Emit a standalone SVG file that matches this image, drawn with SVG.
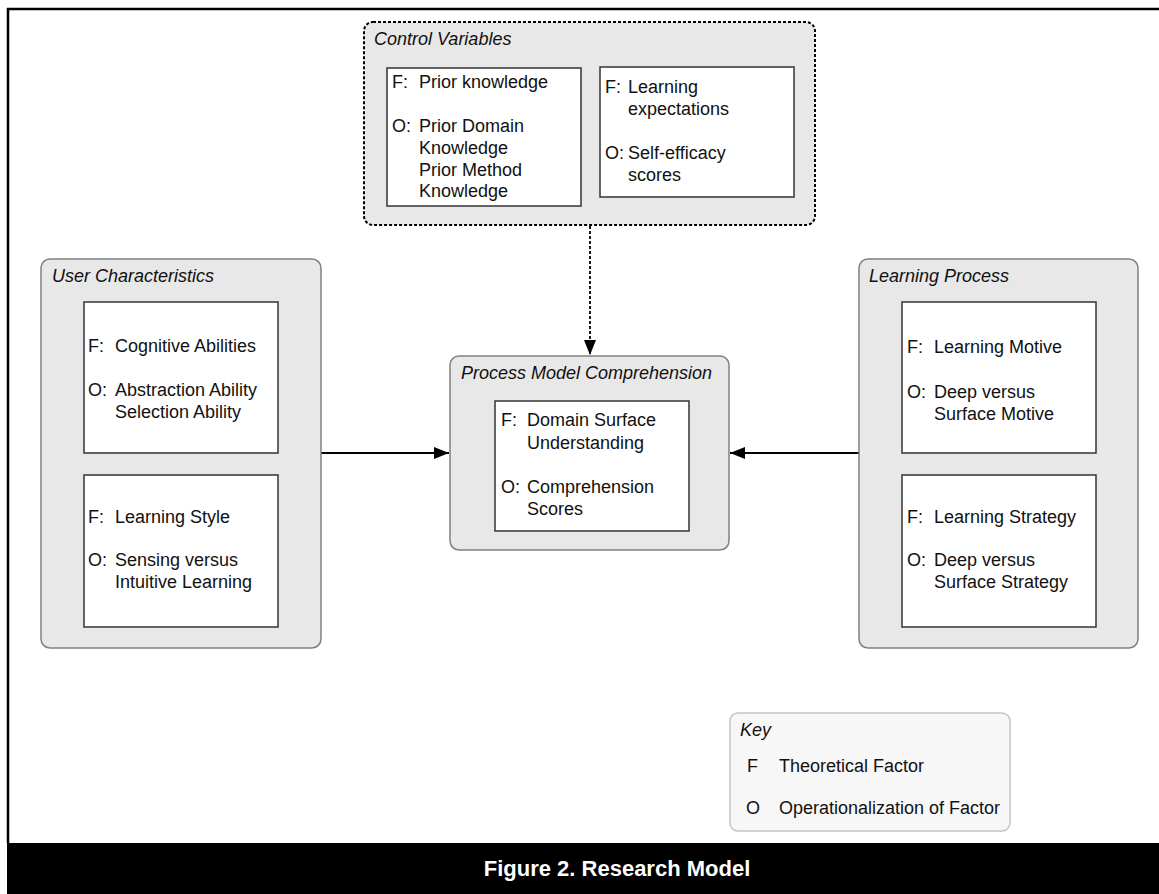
<svg xmlns="http://www.w3.org/2000/svg" width="1159" height="894" viewBox="0 0 1159 894">
<style>
text{font-family:"Liberation Sans",Arial,sans-serif;font-size:18px;fill:#111}
.t{font-style:italic}
.grp{fill:#e8e8e8;stroke:#808080;stroke-width:1.5}
.inner{fill:#fff;stroke:#333;stroke-width:1.5}
.conn{stroke:#000;stroke-width:1.8;fill:none}
</style>
<defs>
<marker id="ah" markerWidth="16" markerHeight="12" refX="15" refY="6" orient="auto" markerUnits="userSpaceOnUse">
<path d="M0,0 L15,6 L0,12 Z" fill="#000"/>
</marker>
</defs>
<rect x="0" y="0" width="1159" height="894" fill="#fff"/>
<g id="frame">
<line x1="7" y1="9" x2="1159" y2="9" stroke="#000" stroke-width="2.5"/>
<line x1="8" y1="8" x2="8" y2="843" stroke="#000" stroke-width="2.5"/>
<rect x="7" y="843" width="1152" height="51" fill="#000"/>
<text x="617" y="876" text-anchor="middle" style="font-weight:bold;font-size:22px;fill:#fff">Figure 2. Research Model</text>
</g>
<g id="connectors">
<line class="conn" x1="590" y1="226" x2="590" y2="355" stroke-dasharray="3,2" stroke-width="2" marker-end="url(#ah)"/>
<line class="conn" x1="321" y1="453" x2="449" y2="453" marker-end="url(#ah)"/>
<line class="conn" x1="859" y1="453" x2="730" y2="453" marker-end="url(#ah)"/>
</g>
<g id="control-variables">
<rect x="364" y="22" width="451" height="203" rx="9" fill="#e8e8e8" stroke="#000" stroke-width="2" stroke-dasharray="3,2"/>
<text class="t" x="374" y="45">Control Variables</text>
<rect class="inner" x="387" y="68" width="194" height="138"/>
<text x="392" y="88">F:</text><text x="419" y="88">Prior knowledge</text>
<text x="392" y="132">O:</text><text x="419" y="132">Prior Domain</text>
<text x="419" y="154">Knowledge</text>
<text x="419" y="176">Prior Method</text>
<text x="419" y="197">Knowledge</text>
<rect class="inner" x="600" y="67" width="194" height="130"/>
<text x="605" y="93">F:</text><text x="628" y="93">Learning</text>
<text x="628" y="115">expectations</text>
<text x="605" y="159">O:</text><text x="628" y="159">Self-efficacy</text>
<text x="628" y="181">scores</text>
</g>
<g id="user-characteristics">
<rect class="grp" x="41" y="259" width="280" height="389" rx="9"/>
<text class="t" x="52" y="282">User Characteristics</text>
<rect class="inner" x="84" y="302" width="194" height="151"/>
<text x="88" y="352">F:</text><text x="115" y="352">Cognitive Abilities</text>
<text x="88" y="396">O:</text><text x="115" y="396">Abstraction Ability</text>
<text x="115" y="418">Selection Ability</text>
<rect class="inner" x="84" y="475" width="194" height="152"/>
<text x="88" y="523">F:</text><text x="115" y="523">Learning Style</text>
<text x="88" y="566">O:</text><text x="115" y="566">Sensing versus</text>
<text x="115" y="588">Intuitive Learning</text>
</g>
<g id="process-model-comprehension">
<rect class="grp" x="450" y="356" width="279" height="194" rx="9"/>
<text class="t" x="461" y="379">Process Model Comprehension</text>
<rect class="inner" x="495" y="401" width="194" height="130"/>
<text x="501" y="426">F:</text><text x="527" y="426">Domain Surface</text>
<text x="527" y="449">Understanding</text>
<text x="501" y="493">O:</text><text x="527" y="493">Comprehension</text>
<text x="527" y="515">Scores</text>
</g>
<g id="learning-process">
<rect class="grp" x="859" y="259" width="279" height="389" rx="9"/>
<text class="t" x="869" y="282">Learning Process</text>
<rect class="inner" x="902" y="302" width="194" height="151"/>
<text x="907" y="353">F:</text><text x="934" y="353">Learning Motive</text>
<text x="907" y="398">O:</text><text x="934" y="398">Deep versus</text>
<text x="934" y="420">Surface Motive</text>
<rect class="inner" x="902" y="475" width="194" height="152"/>
<text x="907" y="523">F:</text><text x="934" y="523">Learning Strategy</text>
<text x="907" y="566">O:</text><text x="934" y="566">Deep versus</text>
<text x="934" y="588">Surface Strategy</text>
</g>
<g id="key">
<rect x="730" y="713" width="280" height="118" rx="8" fill="#f7f7f7" stroke="#c4c4c4" stroke-width="1.5"/>
<text class="t" x="740" y="736">Key</text>
<text x="747" y="772">F</text><text x="779" y="772">Theoretical Factor</text>
<text x="746" y="814">O</text><text x="779" y="814">Operationalization of Factor</text>
</g>
</svg>
